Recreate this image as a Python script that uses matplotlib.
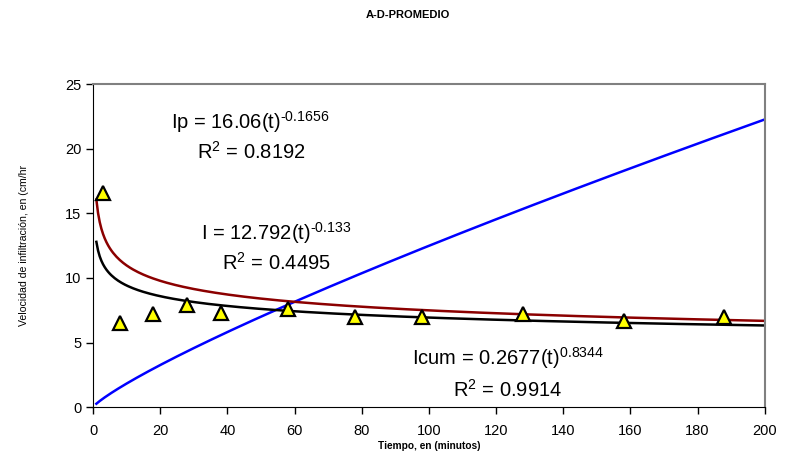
import matplotlib.pyplot as plt
import numpy as np

plt.rcParams['font.family'] = ['Liberation Sans', 'DejaVu Sans']
plt.rcParams['mathtext.fontset'] = 'custom'
plt.rcParams['mathtext.rm'] = 'Liberation Sans'
plt.rcParams['mathtext.it'] = 'Liberation Sans:italic'

# measured points
tiempo = [3, 8, 18, 28, 38, 58, 78, 98, 128, 158, 188]
velocidad = [16.6, 6.5, 7.2, 7.9, 7.3, 7.6, 7.0, 7.0, 7.2, 6.65, 6.95]

# power trendlines shown on the chart: y = a * t^b
coef_ip = [16.06, -0.1656]
coef_i = [12.792, -0.133]
coef_icum = [0.2677, 0.8344]

t = np.linspace(1, 200, 400)

fig = plt.figure(figsize=(7.95, 4.57), dpi=100)
ax = fig.add_axes([0.117, 0.109, 0.845, 0.707])

ax.plot(t, coef_icum[0] * t ** coef_icum[1], color='#0000FF', lw=1.8)
ax.plot(t, coef_ip[0] * t ** coef_ip[1], color='#8B0000', lw=1.8)
ax.plot(t, coef_i[0] * t ** coef_i[1], color='black', lw=1.8)
ax.plot(tiempo, velocidad, ls='none', marker='^', ms=10,
        markerfacecolor='#FFFF00', markeredgecolor='black', markeredgewidth=1.6)

ax.set_xlim(0, 200)
ax.set_ylim(0, 25)
ax.set_xticks(range(0, 201, 20))
ax.set_yticks(range(0, 26, 5))
ax.tick_params(labelsize=10.5, direction='out', length=5, width=1)
ax.tick_params(axis='x', pad=7)
for s in ['top', 'right']:
    ax.spines[s].set_color('#808080')
    ax.spines[s].set_linewidth(1.5)
for s in ['left', 'bottom']:
    ax.spines[s].set_color('black')

fs = 14.5
labels = [
    (250, 122, r'Ip = 16.06(t)$^{\mathrm{‐0.1656}}$'),
    (251, 152, r'R$^{\mathrm{2}}$ = 0.8192'),
    (276, 233, r'I = 12.792(t)$^{\mathrm{‐0.133}}$'),
    (276, 263, r'R$^{\mathrm{2}}$ = 0.4495'),
    (508, 358, r'Icum = 0.2677(t)$^{\mathrm{0.8344}}$'),
    (508, 390, r'R$^{\mathrm{2}}$ = 0.9914'),
]
for px, py, s in labels:
    fig.text(px / 795, 1 - py / 457, s, ha='center', va='center', fontsize=fs)

fig.text(408 / 795, 1 - 15 / 457, 'A-D-PROMEDIO', ha='center', va='center',
         fontsize=8, fontweight='bold')
ax.set_xlabel('Tiempo, en (minutos)', fontsize=7.3, fontweight='bold', labelpad=2)
ax.set_ylabel('Velocidad de infiltración, en (cm/hr', fontsize=7.6, labelpad=26)

fig.savefig('out.png', dpi=100)
